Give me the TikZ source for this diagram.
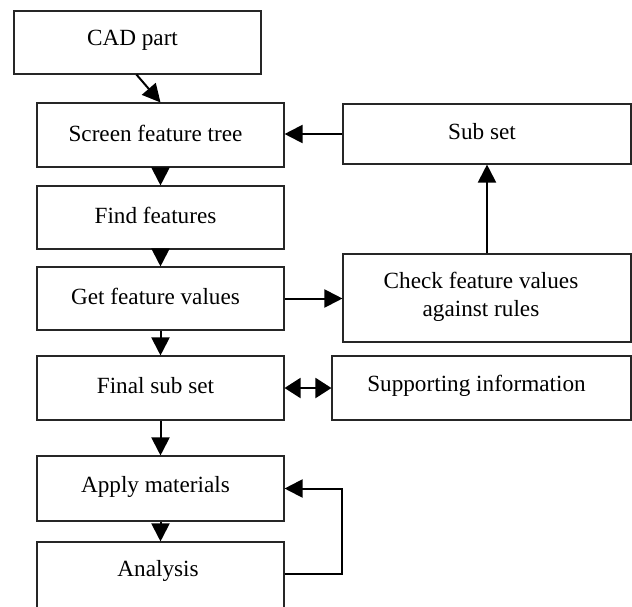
\documentclass[tikz,border=0pt]{standalone}
\usepackage{fontspec}
\setmainfont{Liberation Serif}
\usetikzlibrary{arrows.meta,calc}
\begin{document}
\begin{tikzpicture}[x=1pt,y=-1pt,
  box/.style={draw=black!85, line width=1.1pt, inner sep=0pt},
  txt/.style={inner sep=0pt, align=center, font=\fontsize{23.2}{27.5}\selectfont},
  lab/.style={label={[txt,xshift=-5pt,yshift=2pt]center:{#1}}},
  arr/.style={line width=2pt, -{Triangle[length=18pt,width=18pt]}},
  darr/.style={line width=2pt, {Triangle[length=16pt,width=20pt]}-{Triangle[length=16pt,width=20pt]}}]
\useasboundingbox (0,0) rectangle (632,606);
\clip (0,0) rectangle (632,606);
% left column
\node[box, minimum width=247pt, minimum height=63pt, lab={CAD part}] (cad) at (137.5,42.5) {};
\node[box, minimum width=247pt, minimum height=64pt, lab={Screen feature tree}] (scr) at (160.5,135) {};
\node[box, minimum width=247pt, minimum height=63pt, lab={Find features}] (find) at (160.5,217.5) {};
\node[box, minimum width=247pt, minimum height=63pt, lab={Get feature values}] (get) at (160.5,298.5) {};
\node[box, minimum width=247pt, minimum height=64pt, lab={Final sub set}] (fin) at (160.5,388) {};
\node[box, minimum width=247pt, minimum height=65pt, lab={Apply materials}] (app) at (160.5,488.5) {};
\node[box, minimum width=247pt, minimum height=110pt] (ana) at (160.5,597) {};
\node[txt] (anat) at (158,571) {Analysis};
% right column
\node[box, minimum width=288pt, minimum height=60pt, lab={Sub set}] (sub) at (487,134) {};
\node[box, minimum width=288pt, minimum height=88pt] (chk) at (487,298) {};
\node[txt] (chkt) at (481,297) {Check feature values\\against rules};
\node[box, minimum width=299pt, minimum height=64pt, lab={Supporting information}] (sup) at (481.5,388) {};
% connectors
\draw[arr] ($(cad.south west)+(123,0)$) -- (scr.north);
\draw[arr] (scr.south) -- (find.north);
\draw[arr] (find.south) -- (get.north);
\draw[arr] (get.south) -- (fin.north);
\draw[arr] (fin.south) -- (app.north);
\draw[arr] (app.south) -- (ana.north);
\draw[arr] (sub.west) -- (sub.west -| scr.east);
\draw[arr] (get.east) -- (get.east -| chk.west);
\draw[arr] (chk.north) -- (sub.south);
\draw[darr] (fin.east) -- (sup.west);
\coordinate (loopa) at ($(anat -| ana.east)+(0,3)$);
\coordinate (loopb) at ($(loopa)+(57,0)$);
\draw[arr] (loopa) -- (loopb) -- (loopb |- app.east) -- (app.east);
\end{tikzpicture}
\end{document}
